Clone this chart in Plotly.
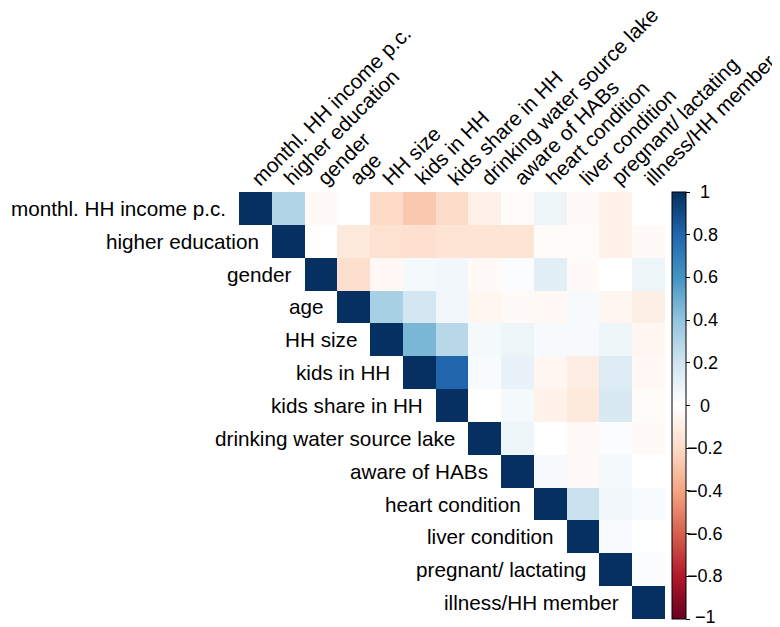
import plotly.graph_objects as go

variables = [
    "monthl. HH income p.c.", "higher education", "gender", "age", "HH size",
    "kids in HH", "kids share in HH", "drinking water source lake", "aware of HABs",
    "heart condition", "liver condition", "pregnant/ lactating", "illness/HH member",
]

# upper-triangle correlations, row i lists values for columns i+1 .. 12
row_income = [0.30, -0.03, 0.00, -0.20, -0.27, -0.19, -0.08, -0.02, 0.08, -0.03, -0.07, 0.00]
row_educ = [0.00, -0.12, -0.16, -0.17, -0.15, -0.15, -0.15, -0.02, -0.02, -0.07, -0.03]
row_gender = [-0.18, -0.04, 0.05, 0.06, -0.03, 0.02, 0.12, -0.03, 0.00, 0.08]
row_age = [0.33, 0.19, 0.06, -0.05, -0.03, -0.04, 0.04, -0.05, -0.09]
row_hhsize = [0.46, 0.28, 0.05, 0.08, 0.04, 0.04, 0.07, -0.05]
row_kids = [0.80, 0.03, 0.10, -0.05, -0.10, 0.15, -0.04]
row_kidshare = [0.00, 0.05, -0.07, -0.12, 0.17, -0.02]
row_water = [0.08, 0.00, -0.03, 0.02, -0.03]
row_aware = [0.04, -0.03, 0.05, 0.00]
row_heart = [0.22, 0.06, 0.03]
row_liver = [0.03, 0.01]
row_pregnant = [0.02]

upper_rows = [row_income, row_educ, row_gender, row_age, row_hhsize, row_kids,
              row_kidshare, row_water, row_aware, row_heart, row_liver, row_pregnant, []]

colorbar_ticks = [-1, -0.8, -0.6, -0.4, -0.2, 0, 0.2, 0.4, 0.6, 0.8, 1]

n = len(variables)
z = []
for i in range(n):
    row = [None] * n
    row[i] = 1.0
    for k, v in enumerate(upper_rows[i]):
        row[i + 1 + k] = v
    z.append(row)

rdbu = ["#67001F", "#B2182B", "#D6604D", "#F4A582", "#FDDBC7", "#FFFFFF",
        "#D1E5F0", "#92C5DE", "#4393C3", "#2166AC", "#053061"]
colorscale = [[k / (len(rdbu) - 1), c] for k, c in enumerate(rdbu)]

FONT = "Liberation Sans, Arial, Helvetica, sans-serif"

fig = go.Figure(go.Heatmap(
    z=z,
    x=list(range(n)),
    y=list(range(n)),
    zmin=-1, zmax=1,
    colorscale=colorscale,
    hoverongaps=False,
    colorbar=dict(
        x=1.0164, xanchor="left", xref="paper", xpad=0, ypad=0,
        y=0.5, yanchor="middle", len=1.0, lenmode="fraction",
        thickness=14, outlinewidth=1, outlinecolor="black",
        tickvals=colorbar_ticks, ticks="outside", ticklen=4, tickcolor="black",
        showticklabels=False,
    ),
))

annotations = []
for i, name in enumerate(variables):
    annotations.append(dict(
        x=i - 0.5, y=i, xref="x", yref="y", text=name, showarrow=False,
        xanchor="right", yanchor="middle", xshift=-11,
        font=dict(family=FONT, size=20.7, color="black"),
    ))
    annotations.append(dict(
        x=i - 0.35, y=-0.5, xref="x", yref="y", text=name, showarrow=False,
        textangle=-45, xanchor="left", yanchor="bottom", yshift=0,
        font=dict(family=FONT, size=20.7, color="black"),
    ))

for t in colorbar_ticks:
    label = ("\u2212" + f"{abs(t):g}") if t < 0 else f"{t:g}"
    annotations.append(dict(
        x=1.094, y=(t + 1) / 2, xref="paper", yref="paper", text=label,
        showarrow=False, xanchor="center", yanchor="middle",
        yshift=2 if t == -1 else 0,
        font=dict(family=FONT, size=18, color="black"),
    ))

fig.update_layout(
    width=772, height=619,
    margin=dict(l=231, r=115, t=184, b=8),
    paper_bgcolor="white", plot_bgcolor="white",
    xaxis=dict(visible=False, range=[-0.5, n - 0.5], fixedrange=True),
    yaxis=dict(visible=False, range=[n - 0.5, -0.5], fixedrange=True),
    annotations=annotations,
    showlegend=False,
)

fig.write_html("out.html")
